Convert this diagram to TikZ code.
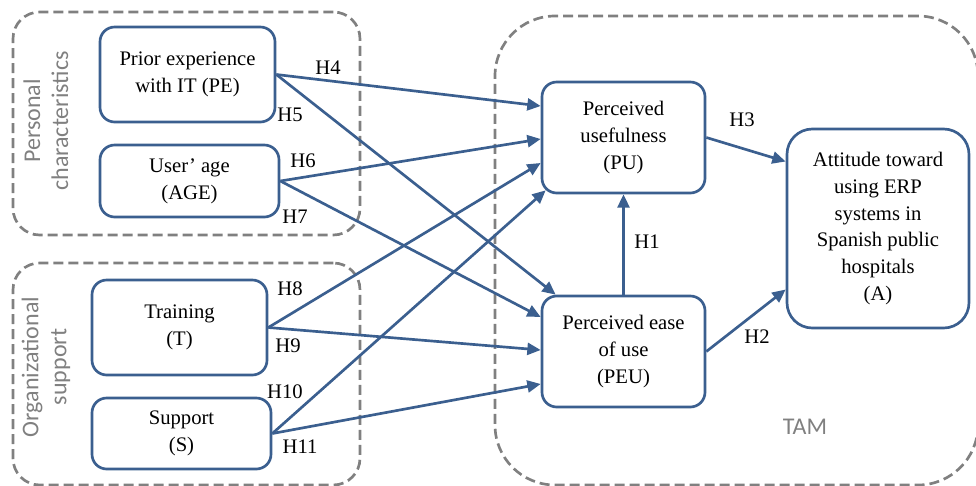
\documentclass[tikz,border=0pt]{standalone}
\usepackage{fontspec}
\setmainfont{Liberation Serif}
\newfontfamily\grpfont{Carlito}
\usetikzlibrary{arrows.meta,calc}
\definecolor{tblue}{RGB}{59,95,143}
\definecolor{tgray}{RGB}{128,128,128}
\tikzset{
  vbox/.style={draw=tblue, line width=2pt, rounded corners=11pt, fill=white, align=center,
    inner sep=0pt, font=\fontsize{15.5}{20}\selectfont},
  grp/.style={draw=tgray, line width=2pt, dash pattern=on 7.5pt off 3.75pt, rounded corners=20pt, inner sep=0pt},
  grplab/.style={text=tgray, font=\grpfont\fontsize{18}{21}\selectfont, align=center, inner sep=0pt},
  hyp/.style={draw=tblue, line width=2pt, -{Triangle[length=10pt,width=9pt]}},
  hlab/.style={font=\fontsize{15.5}{18}\selectfont, inner sep=0pt}
}
\begin{document}
\begin{tikzpicture}[x=0.75pt,y=-0.75pt]
\useasboundingbox (0,0) rectangle (976,486);
% groups
\node[grp, minimum width=347*0.75pt, minimum height=223*0.75pt] (gpc) at (186.5,123.5) {};
\node[grp, minimum width=347*0.75pt, minimum height=222*0.75pt] (gos) at (186.5,374) {};
\node[grp, rounded corners=45pt, minimum width=483*0.75pt, minimum height=469*0.75pt] (gtam) at (736.5,250.5) {};
\node[grplab, rotate=90] (lpc) at (46,121) {Personal\\characteristics};
\node[grplab, rotate=90] (los) at (46,367) {Organizational\\support};
\node[grplab] (ltam) at (805,427) {TAM};
% boxes
\node[vbox, minimum width=175*0.75pt, minimum height=95*0.75pt] (pe) at (187.5,74.5) {Prior experience\\with IT (PE)};
\node[vbox, minimum width=179*0.75pt, minimum height=72*0.75pt] (age) at (189.5,181) {User’ age\\(AGE)};
\node[vbox, minimum width=175*0.75pt, minimum height=95*0.75pt] (tr) at (179.5,327.5) {Training\\(T)};
\node[vbox, minimum width=179*0.75pt, minimum height=71*0.75pt] (su) at (181.5,433.5) {Support\\(S)};
\node[vbox, minimum width=163*0.75pt, minimum height=111*0.75pt] (pu) at (623.5,137.5) {Perceived\\usefulness\\(PU)};
\node[vbox, minimum width=163*0.75pt, minimum height=111*0.75pt] (peu) at (623.5,351.5) {Perceived ease\\of use\\(PEU)};
\node[vbox, rounded corners=19pt, minimum width=182*0.75pt, minimum height=199*0.75pt] (att) at (878,228.5) {Attitude toward\\using ERP\\systems in\\Spanish public\\hospitals\\(A)};
% connectors
\draw[hyp] (pe.east) -- ($(pu.west)+(0,-31.5)$);
\draw[hyp] (pe.east) -- ($(peu.north west)+(15,0)$);
\draw[hyp] (age.east) -- ($(pu.west)+(0,1.5)$);
\draw[hyp] (age.east) -- ($(peu.west)+(0,-34.5)$);
\draw[hyp] (tr.east) -- ($(pu.west)+(0,25.5)$);
\draw[hyp] (tr.east) -- ($(peu.west)+(0,-1.5)$);
\draw[hyp] (su.east) -- ($(pu.south west)+(5,-4)$);
\draw[hyp] (su.east) -- ($(peu.west)+(0,32.5)$);
\draw[hyp] (peu.north) -- (pu.south);
\draw[hyp] (pu.east) -- ($(att.west)+(0,-67)$);
\draw[hyp] (peu.east) -- ($(att.west)+(0,61)$);
% labels
\node[hlab] (h4) at (328,68) {H4};
\node[hlab] (h5) at (290,115) {H5};
\node[hlab] (h6) at (303,161) {H6};
\node[hlab] (h7) at (295,217) {H7};
\node[hlab] (h8) at (290,289) {H8};
\node[hlab] (h9) at (288,346) {H9};
\node[hlab] (h10) at (285,392) {H10};
\node[hlab] (h11) at (300,447) {H11};
\node[hlab] (h3) at (742,120) {H3};
\node[hlab] (h1) at (647,242) {H1};
\node[hlab] (h2) at (757,337) {H2};
\end{tikzpicture}
\end{document}
